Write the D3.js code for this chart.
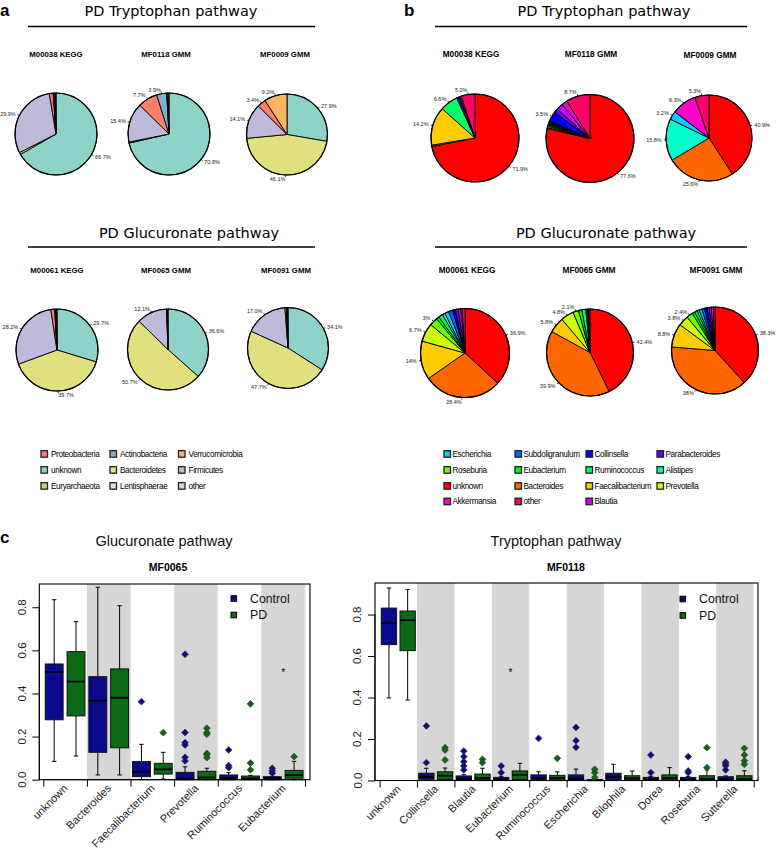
<!DOCTYPE html>
<html><head><meta charset="utf-8">
<script src="https://cdn.jsdelivr.net/npm/d3@7"></script>
<style>body{margin:0;background:#fff} svg{display:block;font-family:"Liberation Sans",Arial,sans-serif}</style>
</head><body><svg id="chart" width="777" height="851"></svg>
<script>
// ---------- Panel a (phylum level) ----------
const aLegendNames = ["Proteobacteria","Actinobacteria","Verrucomicrobia","unknown","Bacteroidetes","Firmicutes","Euryarchaeota","Lentisphaerae","other"];
const aPieOrder = ["unknown","Bacteroidetes","Firmicutes","Proteobacteria","Actinobacteria","Verrucomicrobia","Euryarchaeota","Lentisphaerae","other"];
const aColorMap = {unknown:"#8dd3c7",Bacteroidetes:"#e0e07f",Firmicutes:"#bebada",Proteobacteria:"#fb8072",Actinobacteria:"#80b1d3",Verrucomicrobia:"#fdb462",Euryarchaeota:"#b3de69",Lentisphaerae:"#fccde5",other:"#d9d9d9"};
const aTrpM00038 = [66.7, 0.8, 29.9, 1.5, 0.2, 0.4, 0.3, 0, 0.2];
const aTrpM00038Lab = ["66.7%","","29.9%","","","","","",""];
const aTrpMF0118 = [70.8, 0.4, 15.4, 7.7, 3.9, 0.2, 0.4, 0, 0.3];
const aTrpMF0118Lab = ["70.8%","","15.4%","7.7%","3.9%","","","",""];
const aTrpMF0009 = [27.9, 46.1, 14.1, 3.4, 0, 9.2, 0, 0, 0];
const aTrpMF0009Lab = ["27.9%","46.1%","14.1%","3.4%","","9.2%","","",""];
const aGlcM00061 = [29.7, 39.7, 28.2, 1.5, 0.2, 0.2, 0.3, 0, 0.2];
const aGlcM00061Lab = ["29.7%","39.7%","28.2%","","","","","",""];
const aGlcMF0065 = [36.6, 50.7, 12.1, 0.2, 0, 0, 0.2, 0, 0.2];
const aGlcMF0065Lab = ["36.6%","50.7%","12.1%","","","","","",""];
const aGlcMF0091 = [34.1, 47.7, 17.0, 0.6, 0.1, 0, 0.3, 0, 0.2];
const aGlcMF0091Lab = ["34.1%","47.7%","17.0%","","","","","",""];

// ---------- Panel b (genus level) ----------
const bPieOrder = ["unknown","Bacteroides","Faecalibacterium","Prevotella","Roseburia","Eubacterium","Ruminococcus","Alistipes","Escherichia","Subdoligranulum","Collinsella","Parabacteroides","Blautia","Akkermansia","other"];
const bColors = ["#FF0000","#FF6600","#FFCC00","#CCFF00","#66FF00","#00FF00","#00FF66","#00FFCC","#00CCFF","#0066FF","#0000FF","#6600FF","#CC00FF","#FF00CC","#FF0066"];
const bLegendNames = ["Escherichia","Subdoligranulum","Collinsella","Parabacteroides","Roseburia","Eubacterium","Ruminococcus","Alistipes","unknown","Bacteroides","Faecalibacterium","Prevotella","Akkermansia","other","Blautia"];
const bTrpM00038 = [71.9, 0.5, 14.2, 0, 0, 0, 6.6, 0, 0, 0, 0.8, 0, 0.5, 0.5, 5.0];
const bTrpM00038Lab = ["71.9%","","14.2%","","","","6.6%","","","","","","","","5.0%"];
const bTrpMF0118 = [77.6, 0.3, 0.5, 0.4, 0.3, 0.3, 0.3, 0.2, 0.3, 0.2, 3.5, 1.5, 2.5, 2.0, 8.7];
const bTrpMF0118Lab = ["77.6%","","","","","","","","","","3.5%","","","","8.7%"];
const bTrpMF0009 = [40.9, 25.6, 0, 0, 0, 0, 0, 15.8, 3.2, 0, 0, 0, 0, 9.3, 5.3];
const bTrpMF0009Lab = ["40.9%","25.6%","","","","","","15.8%","3.2%","","","","","9.3%","5.3%"];
const bGlcM00061 = [36.9, 28.4, 14, 6.7, 3, 1, 1.5, 1, 1.5, 1.5, 1, 1, 1, 0.5, 1];
const bGlcM00061Lab = ["36.9%","28.4%","14%","6.7%","3%","","","","","","","","","",""];
const bGlcMF0065 = [42.4, 39.9, 5.8, 4.8, 2.1, 1.2, 1.5, 0, 0.3, 0.4, 0.3, 0, 0, 0, 0.5];
const bGlcMF0065Lab = ["42.4%","39.9%","5.8%","4.8%","2.1%","","","","","","","","","",""];
const bGlcMF0091 = [38.3, 38, 8.8, 3.8, 2.4, 1, 1, 0.8, 1, 1, 1, 0.8, 0.7, 0.8, 0.6];
const bGlcMF0091Lab = ["38.3%","38%","8.8%","3.8%","2.4%","","","","","","","","","",""];

// ---------- Panel c (boxplots) : [lowWhisker, Q1, median, Q3, highWhisker] ----------
const gluCats = ["unknown","Bacteroides","Faecalibacterium","Prevotella","Ruminococcus","Eubacterium"];
const gluControl = [[0.085,0.278,0.50,0.537,0.835],[0.022,0.127,0.367,0.478,0.893],[0.0,0.014,0.037,0.084,0.164],[0,0.0,0.005,0.034,0.06],[0,0,0.008,0.022,0.033],[0,0,0.006,0.014,0.015]];
const gluControlOut = [[],[],[0.362],[0.582,0.219,0.172,0.161,0.104,0.087],[0.138,0.065,0.056],[0.053,0.041,0.03]];
const gluPD = [[0.11,0.296,0.455,0.594,0.733],[0.022,0.148,0.38,0.514,0.807],[0.003,0.026,0.048,0.076,0.127],[0,0.0,0.01,0.039,0.053],[0,0,0.006,0.017,0.02],[0,0.007,0.022,0.043,0.085]];
const gluPDOut = [[],[],[0.218],[0.239,0.219,0.211,0.122,0.115,0.102],[0.352,0.077,0.046],[0.107]];
const gluStar = "Eubacterium";

const trpCats = ["unknown","Collinsella","Blautia","Eubacterium","Ruminococcus","Escherichia","Bilophila","Dorea","Roseburia","Sutterella"];
const trpControl = [[0.398,0.655,0.759,0.831,0.928],[0,0.006,0.018,0.035,0.059],[0,0.002,0.008,0.022,0.028],[0,0.001,0.005,0.015,0.02],[0,0.002,0.012,0.027,0.042],[0,0.002,0.01,0.027,0.055],[0,0.003,0.018,0.035,0.078],[0,0.001,0.004,0.015,0.02],[0,0.001,0.004,0.015,0.02],[0,0.001,0.006,0.018,0.022]];
const trpControlOut = [[],[0.263,0.086],[0.142,0.115,0.091,0.07,0.051],[0.07,0.038],[0.203],[0.256,0.192,0.16],[],[0.123,0.038],[0.115,0.046,0.038],[0.088,0.08,0.071,0.051]];
const trpPD = [[0.388,0.626,0.773,0.817,0.921],[0,0.005,0.023,0.042,0.06],[0,0.004,0.012,0.031,0.059],[0,0.005,0.027,0.046,0.083],[0,0.003,0.012,0.025,0.042],[0,0,0.001,0.004,0.004],[0,0.002,0.01,0.023,0.046],[0,0.003,0.012,0.027,0.062],[0,0.002,0.008,0.023,0.051],[0,0.002,0.008,0.023,0.047]];
const trpPDOut = [[],[0.158,0.147,0.099],[0.102,0.086],[],[0.107],[0.054,0.038,0.015],[],[],[0.158,0.062],[0.155,0.123,0.095,0.078]];
const trpStar = "Eubacterium";

const yTicks = [0, 0.2, 0.4, 0.6, 0.8];
const groupNames = ["Control","PD"];
const groupColors = ["#0a0a8c","#0b6a14"];

// ================= drawing =================
const svg = d3.select("#chart");
svg.append("rect").attr("width",777).attr("height",851).attr("fill","#fff");

function txt(x, y, s, size, opt = {}) {
  const t = svg.append("text").attr("x", x).attr("y", y).text(s)
    .attr("font-size", size).attr("text-anchor", opt.anchor || "middle")
    .attr("fill", opt.fill || "#000");
  if (opt.bold) t.attr("font-weight", "bold");
  if (opt.family) t.attr("font-family", opt.family);
  return t;
}

function drawPie(cx, cy, r, values, labels, colors) {
  const data = values.map((v, i) => ({ v, lab: labels[i], col: colors[i] })).filter(d => d.v > 0);
  const arcs = d3.pie().sort(null).value(d => d.v)(data);
  const arc = d3.arc().innerRadius(0).outerRadius(r);
  const g = svg.append("g").attr("transform", `translate(${cx},${cy})`);
  g.selectAll("path").data(arcs).join("path").attr("d", arc)
    .attr("fill", d => d.data.col).attr("stroke", "#000").attr("stroke-width", 0.9).attr("stroke-linejoin","round");
  g.append("circle").attr("r", r).attr("fill", "none").attr("stroke", "#000").attr("stroke-width", 1.2);
  arcs.filter(d => d.data.lab).forEach(d => {
    const a = (d.startAngle + d.endAngle) / 2, sx = Math.sin(a), sy = -Math.cos(a);
    g.append("line").attr("x1", sx * r).attr("y1", sy * r).attr("x2", sx * r * 1.05).attr("y2", sy * r * 1.05)
      .attr("stroke", "#000").attr("stroke-width", 0.8);
    g.append("text").attr("x", sx * r * 1.1).attr("y", sy * r * 1.1).attr("dy", "0.35em")
      .attr("text-anchor", sx >= 0 ? "start" : "end").attr("font-size", 5.5).attr("fill", "#222").text(d.data.lab);
  });
}

// panel letters
txt(0, 16, "a", 17, { anchor: "start", bold: true });
txt(404, 16, "b", 17, { anchor: "start", bold: true });
txt(0, 543, "c", 17, { anchor: "start", bold: true });

// section titles
const dejavu = "DejaVu Sans, Verdana, sans-serif";
txt(171, 16, "PD Tryptophan pathway", 14.5, { family: dejavu });
txt(189, 238, "PD Glucuronate pathway", 14.5, { family: dejavu });
txt(604, 16, "PD Tryptophan pathway", 14.5, { family: dejavu });
txt(606, 238, "PD Glucuronate pathway", 14.5, { family: dejavu });
[[28, 315, 26.5], [28, 315, 247], [435, 747, 26.5], [435, 747, 247]].forEach(([x1, x2, y]) =>
  svg.append("line").attr("x1", x1).attr("x2", x2).attr("y1", y).attr("y2", y).attr("stroke", "#000").attr("stroke-width", 1.3));

// pie subtitles
[[56, 57, "M00038 KEGG"], [166, 57, "MF0118 GMM"], [285, 57, "MF0009 GMM"],
 [57, 273, "M00061 KEGG"], [166, 273, "MF0065 GMM"], [286, 273, "MF0091 GMM"]].forEach(([x, y, s]) => txt(x, y, s, 7.8, { bold: true }));
[[471, 57, "M00038 KEGG"], [591, 57, "MF0118 GMM"], [710, 58, "MF0009 GMM"],
 [467, 273, "M00061 KEGG"], [589, 273, "MF0065 GMM"], [716, 273, "MF0091 GMM"]].forEach(([x, y, s]) => txt(x, y, s, 8.3, { bold: true }));

const aCols = aPieOrder.map(n => aColorMap[n]);
drawPie(56, 134, 41, aTrpM00038, aTrpM00038Lab, aCols);
drawPie(169, 134, 41, aTrpMF0118, aTrpMF0118Lab, aCols);
drawPie(287, 134.5, 40.5, aTrpMF0009, aTrpMF0009Lab, aCols);
drawPie(57, 350, 41, aGlcM00061, aGlcM00061Lab, aCols);
drawPie(168, 349.5, 40.5, aGlcMF0065, aGlcMF0065Lab, aCols);
drawPie(288, 348, 40.5, aGlcMF0091, aGlcMF0091Lab, aCols);

drawPie(475, 138, 44, bTrpM00038, bTrpM00038Lab, bColors);
drawPie(590, 138.5, 44, bTrpMF0118, bTrpMF0118Lab, bColors);
drawPie(709, 138, 43, bTrpMF0009, bTrpMF0009Lab, bColors);
drawPie(465, 353, 44.5, bGlcM00061, bGlcM00061Lab, bColors);
drawPie(590, 352.5, 43.5, bGlcMF0065, bGlcMF0065Lab, bColors);
drawPie(715, 350.5, 43.5, bGlcMF0091, bGlcMF0091Lab, bColors);

// legends
function legend(names, colorOf, xs, ys, ncol, textOff) {
  names.forEach((n, i) => {
    const c = i % ncol, r = Math.floor(i / ncol);
    svg.append("rect").attr("x", xs[c]).attr("y", ys[r] - 3.3).attr("width", 6.5).attr("height", 6.5)
      .attr("fill", colorOf(n)).attr("stroke", "#222").attr("stroke-width", 1.3);
    txt(xs[c] + textOff, ys[r] + 2.9, n, 8.2, { anchor: "start" }).attr("letter-spacing", -0.35);
  });
}
legend(aLegendNames, n => aColorMap[n], [41, 110, 178.5], [454, 470, 486], 3, 10);
legend(bLegendNames, n => bColors[bPieOrder.indexOf(n)], [444, 515, 586, 657], [454, 470, 486, 501.5], 4, 8.5);

// ---------- boxplots ----------
function diamondPath(r) { return `M0,${-r}L${r},0L0,${r}L${-r},0Z`; }

function boxPanel(o) {
  const x = d3.scaleLinear().domain(o.xDom).range(o.xRange);
  const y = d3.scaleLinear().domain(o.yDom).range(o.yRange);
  const top = o.yRange[1], bot = o.yRange[0];
  const g = svg.append("g");
  // bands
  o.cats.forEach((c, i) => {
    if (i % 2 === 1) g.append("rect").attr("x", x(2 * i + 0.5)).attr("y", top).attr("width", x(2 * i + 2.5) - x(2 * i + 0.5))
      .attr("height", bot - top).attr("fill", "#d6d6d6");
  });
  const bw = x(0.41) - x(0);
  const drawOne = (pos, s, outs, col) => {
    const xc = x(pos);
    const [lo, q1, md, q3, hi] = s;
    g.append("line").attr("x1", xc).attr("x2", xc).attr("y1", y(q3)).attr("y2", y(hi)).attr("stroke", "#000").attr("stroke-width", 1);
    g.append("line").attr("x1", xc).attr("x2", xc).attr("y1", y(q1)).attr("y2", y(lo)).attr("stroke", "#000").attr("stroke-width", 1);
    [lo, hi].forEach(v => g.append("line").attr("x1", xc - 2.2).attr("x2", xc + 2.2).attr("y1", y(v)).attr("y2", y(v)).attr("stroke", "#000").attr("stroke-width", 1));
    g.append("rect").attr("x", xc - bw).attr("y", y(q3)).attr("width", 2 * bw).attr("height", Math.max(0.8, y(q1) - y(q3)))
      .attr("fill", col).attr("stroke", "#111").attr("stroke-width", 1);
    g.append("line").attr("x1", xc - bw).attr("x2", xc + bw).attr("y1", y(md)).attr("y2", y(md)).attr("stroke", "#000").attr("stroke-width", 1.8);
    outs.forEach(v => g.append("path").attr("d", diamondPath(3.4)).attr("transform", `translate(${xc},${y(v)})`)
      .attr("fill", col).attr("stroke", "#333").attr("stroke-width", 0.7));
  };
  o.cats.forEach((c, i) => {
    drawOne(2 * i + 1, o.ctrl[i], o.ctrlOut[i], groupColors[0]);
    drawOne(2 * i + 2, o.pd[i], o.pdOut[i], groupColors[1]);
  });
  // star
  const si = o.cats.indexOf(o.star);
  txt(x(2 * si + 1.5), 676, "*", 10);
  // frame
  g.append("rect").attr("x", o.xRange[0]).attr("y", top).attr("width", o.xRange[1] - o.xRange[0]).attr("height", bot - top)
    .attr("fill", "none").attr("stroke", "#000").attr("stroke-width", 1.1);
  // y axis
  const ya = svg.append("g").attr("transform", `translate(${o.xRange[0]},0)`)
    .call(d3.axisLeft(y).tickValues(yTicks).tickSize(7).tickSizeOuter(0).tickFormat(""));
  ya.select(".domain").remove();
  ya.selectAll("line").attr("stroke", "#000");
  svg.append("line").attr("x1", o.xRange[0]).attr("x2", o.xRange[0]).attr("y1", y(0)).attr("y2", y(0.8)).attr("stroke", "#000");
  yTicks.forEach(v => {
    const lx = o.xRange[0] - 13.5;
    txt(lx, y(v), d3.format(".1f")(v), 11.5, { fill: "#222" }).attr("transform", `rotate(-90,${lx},${y(v)})`);
  });
  // x axis
  const tv = d3.range(0, o.cats.length + 1).map(i => 2 * i + 0.5);
  const xa = svg.append("g").attr("transform", `translate(0,${bot})`)
    .call(d3.axisBottom(x).tickValues(tv).tickSize(7).tickSizeOuter(0).tickFormat(""));
  xa.select(".domain").attr("d", `M${x(tv[0])},0H${x(tv[tv.length - 1])}`).attr("stroke", "#000");
  xa.selectAll("line").attr("stroke", "#000");
  o.cats.forEach((c, i) => {
    const lx = x(2 * i + 1.5) + 0.5, ly = bot + 6.5;
    txt(lx, ly, c, 11, { anchor: "end", fill: "#222" }).attr("dy", "0.35em").attr("transform", `rotate(-45,${lx},${ly})`);
  });
  // titles
  txt(o.titleX, 546, o.title, 14.5, { fill: "#111" });
  txt(o.subX, 570.5, o.sub, 10.5, { bold: true });
  // legend
  groupNames.forEach((n, i) => {
    const ly = o.legY + i * 16.5;
    svg.append("rect").attr("x", o.legX).attr("y", ly - 2.8).attr("width", 5.6).attr("height", 5.6)
      .attr("fill", groupColors[i]).attr("stroke", "#000").attr("stroke-width", 1);
    txt(o.legX + 19, ly + 4.3, n, 12.3, { anchor: "start", fill: "#111" });
  });
}

boxPanel({ cats: gluCats, ctrl: gluControl, ctrlOut: gluControlOut, pd: gluPD, pdOut: gluPDOut, star: gluStar,
  xDom: [0.317, 12.73], xRange: [39.3, 310], yDom: [0, 0.908], yRange: [779.7, 584],
  title: "Glucuronate pathway", titleX: 164, sub: "MF0065", subX: 168, legX: 231, legY: 598.5 });
boxPanel({ cats: trpCats, ctrl: trpControl, ctrlOut: trpControlOut, pd: trpPD, pdOut: trpPDOut, star: trpStar,
  xDom: [0.254, 20.73], xRange: [375, 758], yDom: [0, 0.952], yRange: [780.5, 583],
  title: "Tryptophan pathway", titleX: 556, sub: "MF0118", subX: 566, legX: 680, legY: 599 });
</script></body></html>
